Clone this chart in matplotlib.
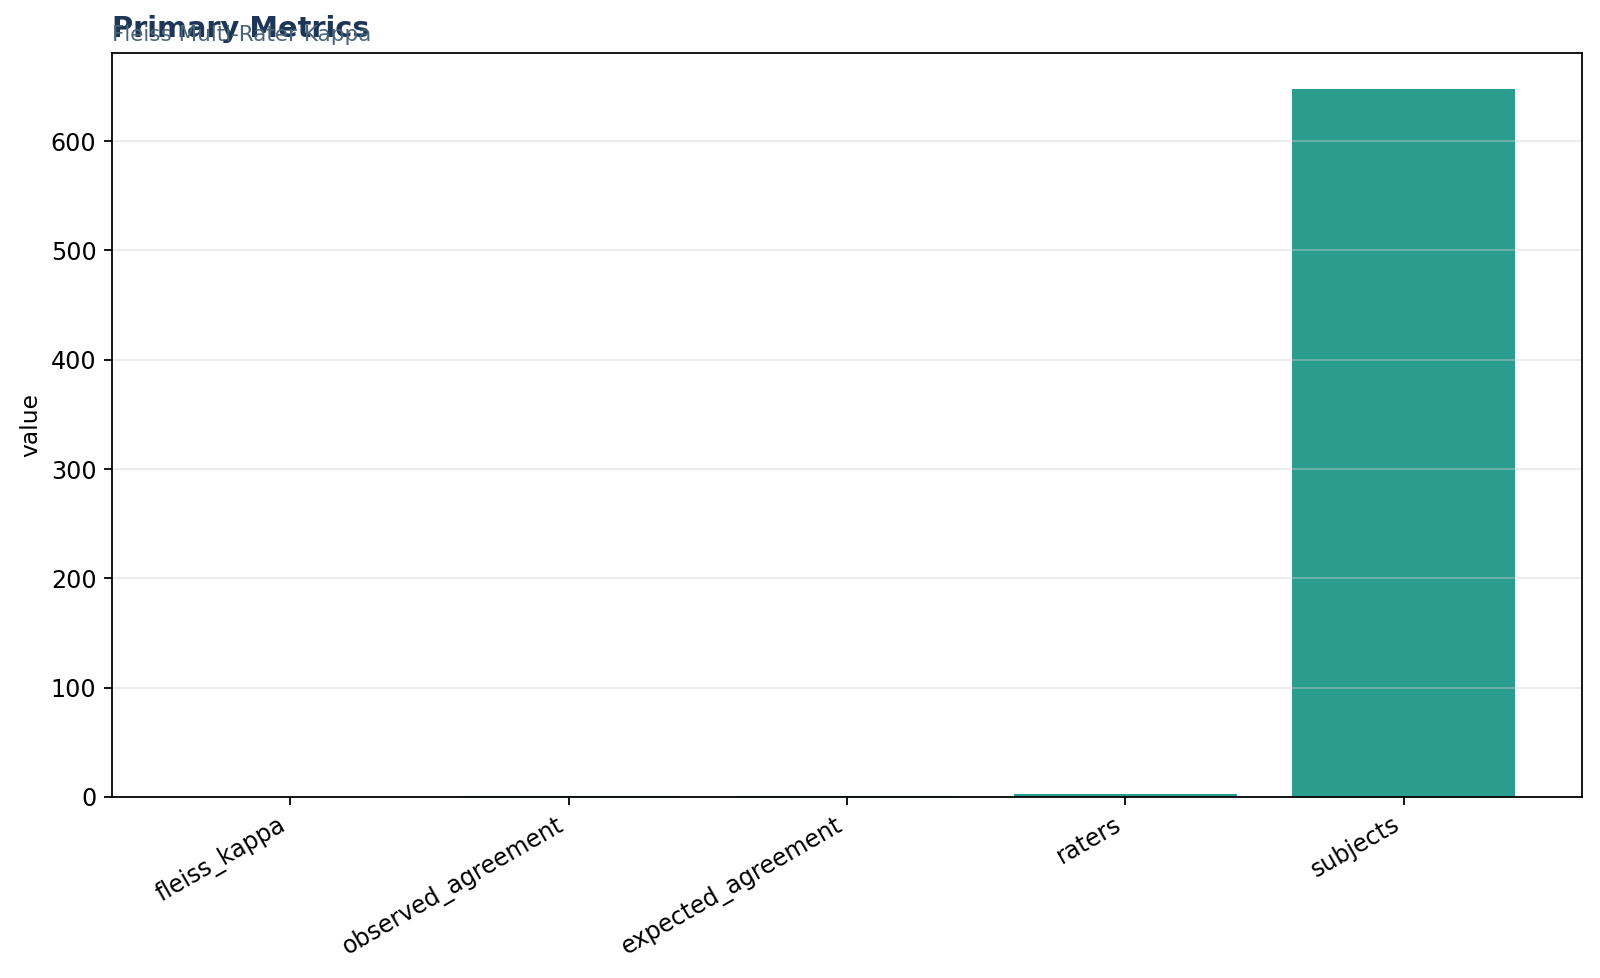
import matplotlib
matplotlib.use("Agg")
import matplotlib.pyplot as plt

categories = ["fleiss_kappa", "observed_agreement", "expected_agreement", "raters", "subjects"]
values = [0.42, 0.71, 0.50, 3, 648]

title = "Primary Metrics"
subtitle = "Fleiss Multi-Rater Kappa"
bar_color = "#2a9d8f"

fig = plt.figure(figsize=(10, 6.1125), dpi=160)
ax = fig.add_axes([0.07, 0.1851, 0.91875, 0.7604])

ax.bar(categories, values, color=bar_color, width=0.8)
ax.set_ylabel("value", fontsize=10.5)
ax.grid(axis="y", color="#d0d0d0", alpha=0.45, linewidth=0.8)
ax.tick_params(axis="both", labelsize=10.7)
ax.tick_params(axis="x", labelrotation=30)
for lbl in ax.get_xticklabels():
    lbl.set_ha("right")
    lbl.set_rotation_mode("default")

ax.text(0, 1 + 16.5 / 744, title, transform=ax.transAxes, fontsize=13,
        fontweight="bold", color="#1d3557", va="baseline", ha="left")
ax.text(0, 1 + 12.3 / 744, subtitle, transform=ax.transAxes, fontsize=9.7,
        color="#4a6578", va="baseline", ha="left")

fig.savefig("out.png", dpi=160)
